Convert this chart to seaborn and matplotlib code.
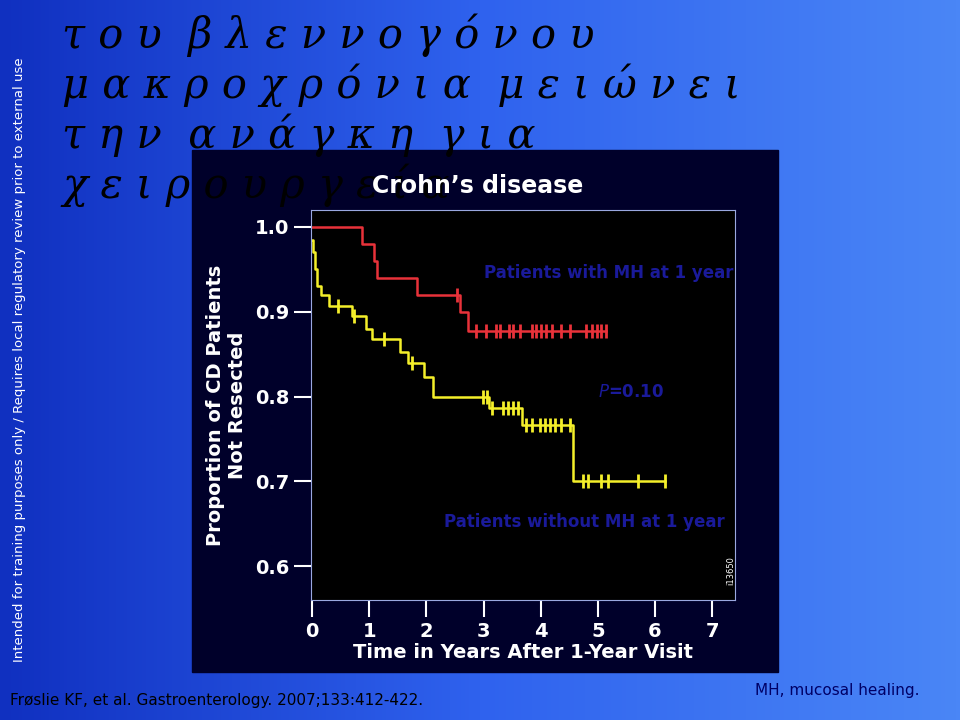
import numpy as np
import pandas as pd
import matplotlib
matplotlib.use("Agg")
import matplotlib.pyplot as plt
import seaborn as sns
from matplotlib.colors import LinearSegmentedColormap

# Kaplan-Meier step data
mh_time = [0.0, 0.88, 1.09, 1.13, 1.84, 2.59, 2.72, 5.15]
mh_surv = [1.0, 0.98, 0.96, 0.94, 0.92, 0.90, 0.877, 0.877]
mh_cens_t = [2.54, 2.87, 3.05, 3.22, 3.29, 3.44, 3.51, 3.63, 3.84, 3.92, 4.01,
             4.10, 4.19, 4.36, 4.51, 4.80, 4.89, 4.98, 5.06, 5.15]
mh_cens_s = [0.92] + [0.877] * 19

no_time = [0.0, 0.02, 0.05, 0.09, 0.15, 0.30, 0.70, 0.95, 1.05, 1.53, 1.67,
           1.96, 2.11, 3.10, 3.68, 4.56, 6.18]
no_surv = [0.985, 0.97, 0.95, 0.93, 0.92, 0.907, 0.895, 0.88, 0.868, 0.853,
           0.84, 0.823, 0.80, 0.787, 0.767, 0.70, 0.70]
no_cens_t = [0.45, 0.74, 1.26, 1.74, 2.99, 3.06, 3.15, 3.34, 3.43, 3.51, 3.60,
             3.75, 3.84, 3.98, 4.07, 4.16, 4.25, 4.36, 4.51, 4.74, 4.83, 5.06,
             5.18, 5.71, 6.18]
no_cens_s = ([0.907, 0.895, 0.868, 0.84, 0.80, 0.80] + [0.787] * 5 + [0.767] * 8
             + [0.70] * 6)

x_ticks = [0, 1, 2, 3, 4, 5, 6, 7]
y_ticks = [0.6, 0.7, 0.8, 0.9, 1.0]

greek_lines = ["τ ο υ  β λ ε ν ν ο γ ό ν ο υ",
               "μ α κ ρ ο χ ρ ό ν ι α  μ ε ι ώ ν ε ι",
               "τ η ν  α ν ά γ κ η  γ ι α",
               "χ ε ι ρ ο υ ρ γ ε ί α"]

fig = plt.figure(figsize=(9.6, 7.2), dpi=100)

# blue gradient background
bg = fig.add_axes([0, 0, 1, 1])
grad = np.linspace(0, 1, 256).reshape(1, -1)
cmap = LinearSegmentedColormap.from_list("bg", ["#1030c0", "#2f62ee", "#4a86f6"])
bg.imshow(np.vstack([grad] * 2), aspect="auto", cmap=cmap, extent=[0, 1, 0, 1])
bg.add_patch(plt.Rectangle((192 / 960, 48 / 720), 586 / 960, 522 / 720,
                           color="#00002a", zorder=2))
bg.set_xlim(0, 1)
bg.set_ylim(0, 1)
bg.axis("off")

for i, line in enumerate(greek_lines):
    fig.text(62 / 960, 1 - (35 + i * 50) / 720, line, fontsize=30, style="italic",
             family="DejaVu Serif", color="black", va="center")

fig.text(478 / 960, 1 - 186 / 720, "Crohn’s disease", fontsize=17, weight="bold",
         color="white", ha="center", va="center")
fig.text(20 / 960, 0.5, "Intended for training purposes only / Requires local regulatory review prior to external use",
         rotation=90, fontsize=9.5, color="white", ha="center", va="center")
fig.text(10 / 960, 1 - 700 / 720, "Frøslie KF, et al. Gastroenterology. 2007;133:412-422.",
         fontsize=11, color="black", va="center")
fig.text(755 / 960, 1 - 690 / 720, "MH, mucosal healing.", fontsize=11, color="#000066",
         va="center")

ax = fig.add_axes([311 / 960, 1 - 600 / 720, 424 / 960, 390 / 720])
ax.set_facecolor("black")
mh = pd.DataFrame({"t": mh_time, "s": mh_surv})
no = pd.DataFrame({"t": no_time, "s": no_surv})
sns.lineplot(data=mh, x="t", y="s", ax=ax, color="#e8323a", lw=1.8, drawstyle="steps-post")
sns.lineplot(data=no, x="t", y="s", ax=ax, color="#f4ef2a", lw=1.8, drawstyle="steps-post")
ax.scatter(mh_cens_t, mh_cens_s, marker="|", s=90, color="#e8323a", lw=2, zorder=3)
ax.scatter(no_cens_t, no_cens_s, marker="|", s=90, color="#f4ef2a", lw=2, zorder=3)

ax.set_xlim(-0.02, 7.4)
ax.set_ylim(0.560, 1.020)
ax.set_xticks(x_ticks)
ax.set_yticks(y_ticks)
ax.set_yticklabels(["0.6", "0.7", "0.8", "0.9", "1.0"])
ax.tick_params(colors="white", labelsize=14, length=12, width=1.5)
for lab in ax.get_xticklabels() + ax.get_yticklabels():
    lab.set_fontweight("bold")
for sp in ax.spines.values():
    sp.set_color("#9aa8e0")
ax.set_xlabel("Time in Years After 1-Year Visit", color="white", fontsize=14,
              weight="bold", labelpad=2)
ax.set_ylabel("Proportion of CD Patients\nNot Resected", color="white", fontsize=14,
              weight="bold", labelpad=6)
ax.text(3.0, 0.94, "Patients with MH at 1 year", color="#1a1a9a", fontsize=12, weight="bold")
ax.text(5.0, 0.80, "$P$=0.10", color="#1a1a9a", fontsize=12, weight="bold")
ax.text(2.3, 0.646, "Patients without MH at 1 year", color="#1a1a9a", fontsize=12, weight="bold")
ax.text(7.25, 0.58, "i13650", color="white", fontsize=6, rotation=90)

fig.savefig("out.png", dpi=100)
